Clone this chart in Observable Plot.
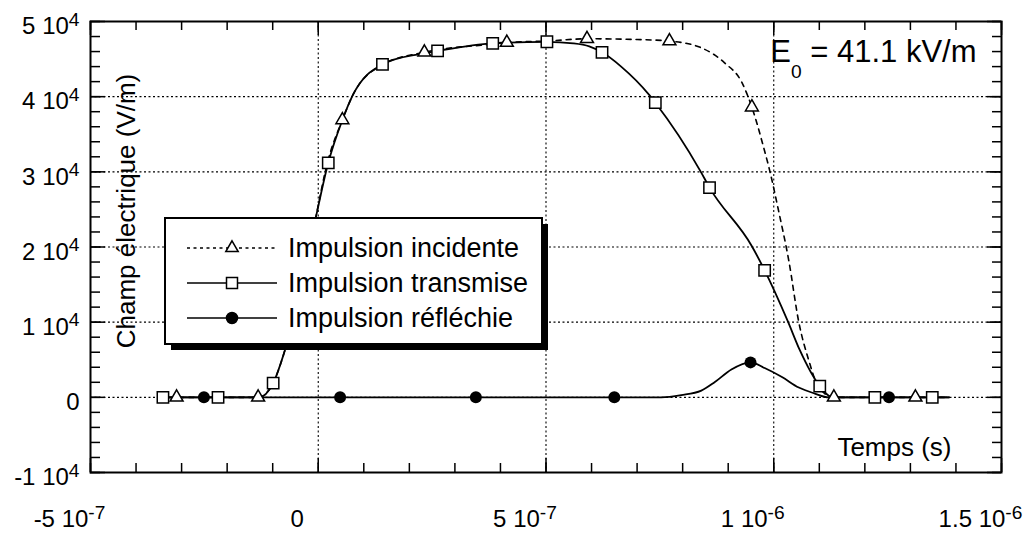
<!DOCTYPE html>
<html>
<head>
<meta charset="utf-8">
<script src="https://cdn.jsdelivr.net/npm/d3@7"></script>
<script src="https://cdn.jsdelivr.net/npm/@observablehq/plot@0.6"></script>
<style>
  html, body { margin: 0; padding: 0; background: #fff; }
  #chart { position: relative; width: 1033px; height: 534px; }
  #chart svg { position: absolute; left: 0; top: 0; }
</style>
</head>
<body>
<div id="chart"></div>
<script>
const FONT = "'Liberation Sans', Arial, Helvetica, sans-serif";

// ---- Traces (time in s, field in V/m) ----
const incidentT = [-3.5e-7, -3.11e-7, -1.32e-7, -0.99e-7, -0.73e-7, -0.07e-7, 0.2e-7, 0.53e-7, 0.75e-7, 1.43e-7,
  2.33e-7, 3.83e-7, 4.14e-7, 5.02e-7, 5.9e-7, 7.0e-7, 7.71e-7, 8.41e-7, 8.92e-7, 9.30e-7, 9.52e-7, 9.78e-7,
  9.91e-7, 1.011e-6, 1.033e-6, 1.055e-6, 1.077e-6, 1.099e-6, 1.132e-6, 1.311e-6, 1.385e-6];
const incidentE = [0, 0, 0, 1900, 6300, 23500, 31200, 36900, 40100, 44300,
  45900, 47000, 47200, 47400, 47700, 47600, 47400, 46500, 44500, 41900, 38600, 33200,
  30200, 24700, 18200, 10000, 4900, 1300, 0, 0, 0];

const transmitT = [-3.5e-7, -3.41e-7, -2.2e-7, -1.3e-7, -0.99e-7, -0.73e-7, -0.07e-7, 0.22e-7, 0.53e-7, 0.75e-7,
  1.41e-7, 2.25e-7, 2.62e-7, 3.83e-7, 5.02e-7, 5.6e-7, 5.95e-7, 6.23e-7, 6.65e-7, 7.27e-7, 7.40e-7, 8.39e-7,
  8.59e-7, 9.52e-7, 9.80e-7, 1.031e-6, 1.057e-6, 1.101e-6, 1.125e-6, 1.15e-6, 1.222e-6, 1.348e-6, 1.385e-6];
const transmitE = [0, 0, 0, 0, 1900, 6300, 23500, 31200, 36900, 40100,
  44300, 45700, 46100, 47100, 47300, 47100, 46700, 45900, 44000, 40200, 39200, 30100,
  27900, 20100, 16900, 10100, 6300, 1500, 100, 0, 0, 0, 0];

const reflectT = [-3.5e-7, -2.51e-7, 0.48e-7, 3.46e-7, 6.5e-7, 7.53e-7, 7.97e-7, 8.41e-7, 8.70e-7, 9.07e-7,
  9.49e-7, 9.80e-7, 1.018e-6, 1.055e-6, 1.090e-6, 1.121e-6, 1.253e-6, 1.385e-6];
const reflectE = [0, 0, 0, 0, 0, 0, 300, 900, 2000, 3700,
  4650, 3900, 2700, 1300, 500, 0, 0, 0];

// ---- Plotted symbols ----
const incidentMarkT = [-3.11e-7, -1.32e-7, 0.53e-7, 2.33e-7, 4.14e-7, 5.9e-7, 7.71e-7, 9.52e-7, 1.132e-6, 1.311e-6];
const incidentMarkE = [0, 0, 36900, 45900, 47200, 47700, 47400, 38600, 0, 0];
const transmitMarkT = [-3.41e-7, -2.2e-7, -0.99e-7, 0.22e-7, 1.41e-7, 2.62e-7, 3.83e-7, 5.02e-7, 6.23e-7,
  7.40e-7, 8.59e-7, 9.80e-7, 1.101e-6, 1.222e-6, 1.348e-6];
const transmitMarkE = [0, 0, 1900, 31200, 44300, 46100, 47100, 47300, 45900, 39200, 27900, 16900, 1500, 0, 0];
const reflectMarkT = [-2.51e-7, 0.48e-7, 3.46e-7, 6.5e-7, 9.49e-7, 1.253e-6];
const reflectMarkE = [0, 0, 0, 0, 4650, 0];

// ---- Axes ----
const xTicks = [-5e-7, 0, 5e-7, 1e-6, 1.5e-6];
const xTickLabels = ["-5 10^{-7}", "0", "5 10^{-7}", "1 10^{-6}", "1.5 10^{-6}"];
const yTicks = [-1e4, 0, 1e4, 2e4, 3e4, 4e4, 5e4];
const yTickLabels = ["-1 10^{4}", "0", "1 10^{4}", "2 10^{4}", "3 10^{4}", "4 10^{4}", "5 10^{4}"];
const xGrid = [0, 5e-7, 1e-6];
const yGrid = [0, 1e4, 2e4, 3e4, 4e4];
const xMinor = d3.range(-5, 16).map(k => k * 1e-7);
const yMinor = d3.range(-5, 26).map(k => k * 2000);

const legendItems = [
  {label: "Impulsion incidente", symbol: d3.symbolTriangle, fill: "#fff", dash: "3,3.5", r: 4.6},
  {label: "Impulsion transmise", symbol: d3.symbolSquare, fill: "#fff", dash: null, r: 6.2},
  {label: "Impulsion réfléchie", symbol: d3.symbolCircle, fill: "#000", dash: null, r: 5.5}
];

const zip = (t, e) => t.map((v, i) => ({t: v, E: e[i]}));
const incident = zip(incidentT, incidentE);
const transmit = zip(transmitT, transmitE);
const reflect = zip(reflectT, reflectE);

const W = 1033, H = 534, ML = 90, MR = 32, MT = 21, MB = 62;
const PW = W - ML - MR, PH = H - MT - MB;
const ink = "#000";

const chart = Plot.plot({
  width: W, height: H,
  marginLeft: ML, marginRight: MR, marginTop: MT, marginBottom: MB,
  x: {domain: [-5e-7, 1.5e-6], axis: null},
  y: {domain: [-1e4, 5e4], axis: null},
  style: {fontFamily: FONT, background: "#fff", color: ink},
  marks: [
    Plot.gridX(xGrid, {stroke: ink, strokeOpacity: 1, strokeWidth: 1.1, strokeDasharray: "2,2.5"}),
    Plot.gridY(yGrid, {stroke: ink, strokeOpacity: 1, strokeWidth: 1.1, strokeDasharray: "2,2.5"}),
    Plot.line(incident, {x: "t", y: "E", curve: "monotone-x", stroke: ink, strokeWidth: 1.6, strokeDasharray: "5,5"}),
    Plot.line(reflect, {x: "t", y: "E", curve: "monotone-x", stroke: ink, strokeWidth: 1.8}),
    Plot.line(transmit, {x: "t", y: "E", curve: "monotone-x", stroke: ink, strokeWidth: 1.8}),
    Plot.dot(zip(reflectMarkT, reflectMarkE), {x: "t", y: "E", symbol: "circle", r: 6, fill: ink, stroke: "none"}),
    Plot.dot(zip(incidentMarkT, incidentMarkE), {x: "t", y: "E", symbol: "triangle", r: 4.8, fill: "#fff", stroke: ink, strokeWidth: 1.5}),
    Plot.dot(zip(transmitMarkT, transmitMarkE), {x: "t", y: "E", symbol: "square", r: 6.4, fill: "#fff", stroke: ink, strokeWidth: 1.5}),
    Plot.frame({stroke: ink, strokeWidth: 2}),
    // inward ticks on all four sides
    Plot.tickX(xMinor, {x: d => d, insetTop: PH - 9, stroke: ink, strokeWidth: 1.5}),
    Plot.tickX(xTicks, {x: d => d, insetTop: PH - 14, stroke: ink, strokeWidth: 1.5}),
    Plot.tickX(xMinor, {x: d => d, insetBottom: PH - 9, stroke: ink, strokeWidth: 1.5}),
    Plot.tickX(xTicks, {x: d => d, insetBottom: PH - 14, stroke: ink, strokeWidth: 1.5}),
    Plot.tickY(yMinor, {y: d => d, insetRight: PW - 10, stroke: ink, strokeWidth: 1.5}),
    Plot.tickY(yTicks, {y: d => d, insetRight: PW - 15, stroke: ink, strokeWidth: 1.5}),
    Plot.tickY(yMinor, {y: d => d, insetLeft: PW - 9, stroke: ink, strokeWidth: 1.5}),
    Plot.tickY(yTicks, {y: d => d, insetLeft: PW - 14, stroke: ink, strokeWidth: 1.5}),
    // tick labels
    Plot.text(xTicks, {x: d => d, text: (d, i) => xTickLabels[i], frameAnchor: "bottom", textAnchor: "middle", lineAnchor: "middle", dx: -21, dy: 47, fontSize: 24, fill: ink}),
    Plot.text(yTicks, {y: d => d, text: (d, i) => yTickLabels[i], frameAnchor: "left", textAnchor: "end", lineAnchor: "middle", dx: -11, dy: 5, fontSize: 24, fill: ink}),
    // axis titles and annotation
    Plot.text(["Champ électrique (V/m)"], {frameAnchor: "left", textAnchor: "middle", lineAnchor: "middle", rotate: -90, dx: 36, dy: -36, fontSize: 26, fill: ink}),
    Plot.text(["Temps (s)"], {frameAnchor: "bottom-right", textAnchor: "end", lineAnchor: "middle", dx: -50, dy: -25, fontSize: 26, fill: ink}),
    Plot.text(["E_{0} = 41.1 kV/m"], {frameAnchor: "top-right", textAnchor: "end", lineAnchor: "middle", dx: -25, dy: 31, fontSize: 31, fill: ink})
  ]
});

const host = document.getElementById("chart");
host.appendChild(chart);

// Turn ^{..} / _{..} markup into raised / lowered tspans
d3.select(chart).selectAll("text").each(function () {
  const raw = this.textContent;
  if (!/[\^_]\{/.test(raw)) return;
  const fs = parseFloat(getComputedStyle(this).fontSize);
  const el = d3.select(this);
  el.text(null);
  const re = /([\^_])\{([^}]*)\}/g;
  let last = 0, shift = 0, m;
  const plain = s => {
    if (!s) return;
    el.append("tspan").attr("dy", -shift).text(s);
    shift = 0;
  };
  while ((m = re.exec(raw))) {
    plain(raw.slice(last, m.index));
    const off = m[1] === "^" ? -0.36 * fs : 0.5 * fs;
    el.append("tspan")
      .attr("dy", off - shift)
      .attr("font-size", (m[1] === "^" ? 0.8 : 0.62) * fs)
      .text(m[2]);
    shift = off;
    last = re.lastIndex;
  }
  plain(raw.slice(last));
});

// Legend box with drop shadow
const leg = d3.create("svg")
  .attr("width", W).attr("height", H)
  .style("pointer-events", "none")
  .style("font-family", FONT);
const bx = 165, by = 218, bw = 377, bh = 126;
leg.append("rect").attr("x", bx + 6).attr("y", by + 6).attr("width", bw).attr("height", bh).attr("fill", ink);
leg.append("rect").attr("x", bx).attr("y", by).attr("width", bw).attr("height", bh)
  .attr("fill", "#fff").attr("stroke", ink).attr("stroke-width", 2);
legendItems.forEach((d, i) => {
  const cy = 248 + i * 35;
  leg.append("line").attr("x1", 187).attr("x2", 277).attr("y1", cy).attr("y2", cy)
    .attr("stroke", ink).attr("stroke-width", 1.6).attr("stroke-dasharray", d.dash);
  leg.append("path").attr("transform", `translate(232,${cy})`)
    .attr("d", d3.symbol(d.symbol, Math.PI * d.r * d.r)())
    .attr("fill", d.fill).attr("stroke", ink).attr("stroke-width", 1.5);
  leg.append("text").attr("x", 288).attr("y", cy).attr("dy", "0.35em")
    .attr("font-size", 27).attr("fill", ink).text(d.label);
});
host.appendChild(leg.node());
</script>
</body>
</html>
